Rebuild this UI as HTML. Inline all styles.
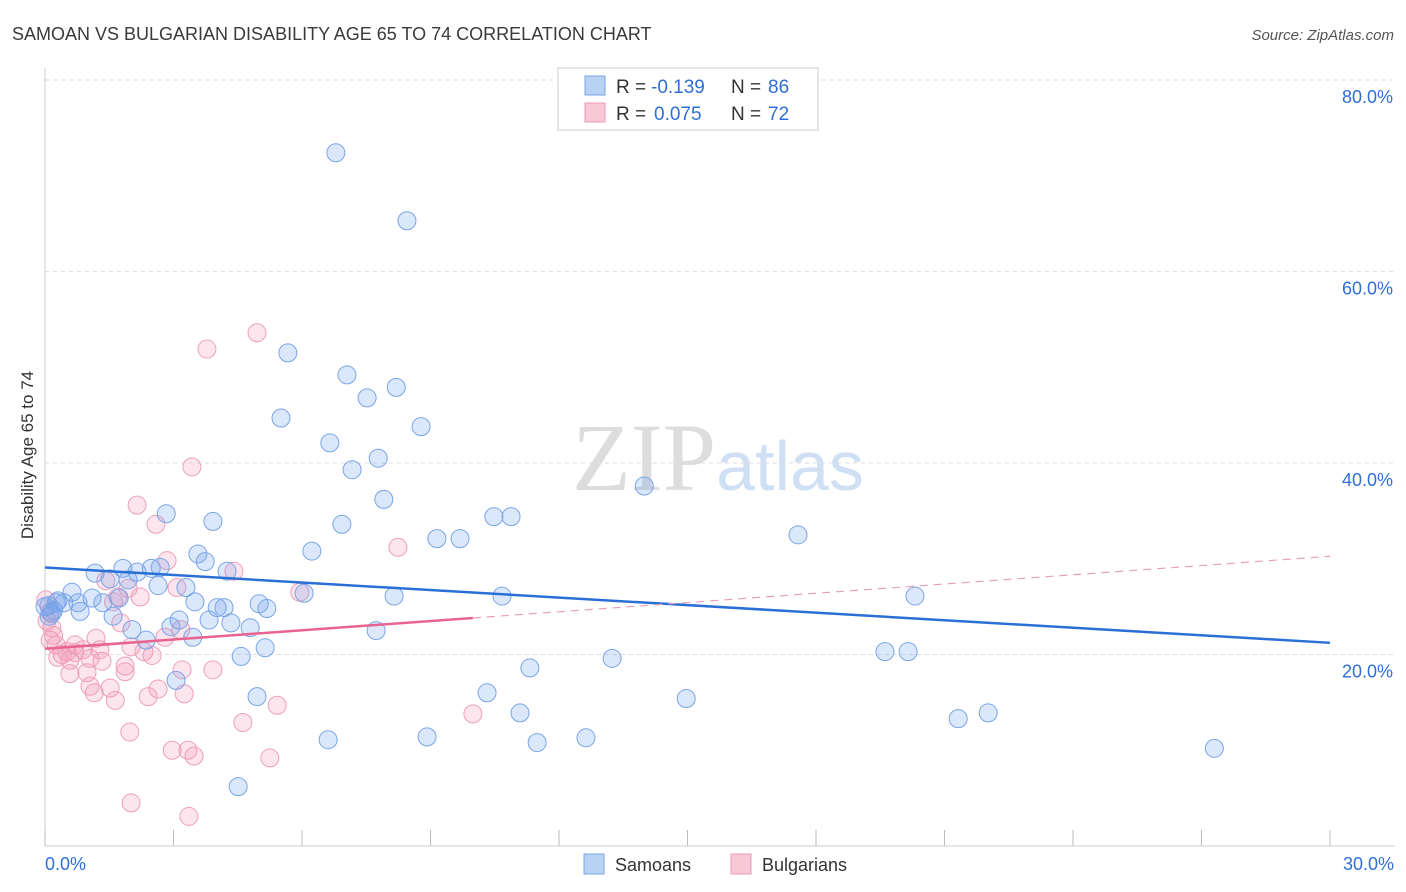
<!DOCTYPE html>
<html><head><meta charset="utf-8"><style>
body{margin:0;background:#fff;font-family:"Liberation Sans",sans-serif}
svg{display:block}
</style></head><body>
<svg id="c" width="1406" height="892">
<text x="12" y="40" font-size="18" fill="#3a3a3a">SAMOAN VS BULGARIAN DISABILITY AGE 65 TO 74 CORRELATION CHART</text>
<text x="1394" y="40" font-size="15" fill="#555" font-style="italic" text-anchor="end">Source: ZipAtlas.com</text>
<text x="33" y="455" font-size="17" fill="#333" text-anchor="middle" transform="rotate(-90 33 455)">Disability Age 65 to 74</text>
<text x="718" y="490" font-size="96" fill="#ddd" text-anchor="middle" font-family="Liberation Serif">ZIP<tspan fill="#cfe0f4" font-family="Liberation Sans" font-size="70">atlas</tspan></text>
<g id="grid"></g><g id="marks"></g>
<g>
<rect x="558" y="68" width="260" height="62" fill="#fff" stroke="#ccc"/>
<rect x="585" y="76" width="20" height="19" fill="#b9d1f3" stroke="#7aa6e6"/>
<rect x="585" y="103" width="20" height="19" fill="#f9c8d7" stroke="#eb9ab4"/>
<text x="616" y="93" font-size="19" fill="#333">R =</text>
<text x="651" y="93" font-size="19" fill="#2f6fd6">-0.139</text>
<text x="731" y="93" font-size="19" fill="#333">N =</text>
<text x="768" y="93" font-size="19" fill="#2f6fd6">86</text>
<text x="616" y="120" font-size="19" fill="#333">R =</text>
<text x="654" y="120" font-size="19" fill="#2f6fd6">0.075</text>
<text x="731" y="120" font-size="19" fill="#333">N =</text>
<text x="768" y="120" font-size="19" fill="#2f6fd6">72</text>
</g>
<g>
<rect x="584" y="854" width="20" height="20" fill="#b9d1f3" stroke="#7aa6e6"/>
<text x="615" y="871" font-size="18" fill="#333">Samoans</text>
<rect x="731" y="854" width="20" height="20" fill="#f9c8d7" stroke="#eb9ab4"/>
<text x="762" y="871" font-size="18" fill="#333">Bulgarians</text>
</g>
</svg>
<script>
const blueX=[6.79,8.45,5.67,7.05,7.52,8.20,5.51,8.78,6.65,7.78,7.17,13.99,7.91,2.83,3.92,6.93,10.48,10.88,17.58,9.15,9.69,6.23,3.57,3.74,1.82,2.48,2.69,1.17,2.15,4.25,1.52,1.94,2.64,3.29,0.63,6.05,8.15,10.67,20.31,1.10,1.73,0.26,0.44,0.77,1.35,3.50,5.00,0.09,4.02,4.18,5.18,0.82,0.16,1.59,3.13,3.83,4.34,2.94,4.79,2.03,7.73,3.45,2.36,5.14,19.61,20.15,4.58,13.24,11.32,3.06,10.32,4.95,14.97,11.09,21.32,22.02,8.92,6.61,12.63,11.49,27.30,4.51,0.0,0.1,0.3,0.2];
const blueY=[72.4,65.3,51.5,49.2,46.8,47.9,44.7,43.8,42.1,40.5,39.3,37.6,36.2,34.7,33.9,33.6,34.4,34.4,32.5,32.1,32.1,30.8,30.5,29.7,29.0,29.0,29.1,28.5,28.6,28.7,27.9,27.8,27.2,27.0,26.5,26.4,26.1,26.1,26.1,25.9,25.9,25.4,25.4,25.4,25.4,25.5,25.3,25.1,24.9,24.9,24.8,24.5,24.3,24.0,23.6,23.6,23.3,22.9,22.8,22.6,22.5,21.8,21.5,20.7,20.3,20.3,19.8,19.6,18.6,17.3,16.0,15.6,15.4,13.9,13.3,13.9,11.4,11.1,11.3,10.8,10.2,6.2,25.0,24.0,25.6,24.6];
const pinkX=[4.95,3.78,3.43,2.15,2.59,8.24,2.85,4.41,3.08,5.95,1.42,1.94,1.70,2.22,0.02,0.12,1.77,3.17,0.16,0.12,1.19,2.80,0.26,0.70,0.89,1.28,2.01,2.31,2.50,0.51,0.30,0.58,1.05,1.33,1.87,3.20,3.92,1.87,0.58,0.98,1.05,1.52,2.64,1.15,3.25,2.41,1.64,5.42,9.99,4.62,1.98,2.97,3.34,3.48,5.25,2.01,3.36,0.05,0.2,0.4,0.7,1.6];
const pinkY=[53.6,51.9,39.6,35.6,33.6,31.2,29.8,28.7,27.0,26.5,27.7,26.9,26.0,26.0,25.7,24.4,23.3,22.6,22.8,21.5,21.7,21.8,21.0,21.0,20.5,20.5,20.8,20.3,19.9,20.3,19.7,19.4,19.6,19.3,18.8,18.4,18.4,18.2,18.0,18.1,16.7,16.5,16.4,16.0,15.9,15.6,15.2,14.7,13.8,12.9,11.9,10.0,10.0,9.4,9.2,4.5,3.1,23.5,22.0,20.0,20.2,25.5];
const yTicks=[20,40,60,80];
const xTickLabels=["0.0%","30.0%"];
const L=45,R=1330,T=80,B=846;
const sx=v=>L+(v/30)*(R-L), sy=v=>B-(v/80)*(B-T);
const NS="http://www.w3.org/2000/svg";
function mk(tag,attrs,parent){const e=document.createElementNS(NS,tag);for(const k in attrs)e.setAttribute(k,attrs[k]);parent.appendChild(e);return e;}
const grid=document.getElementById('grid'), marks=document.getElementById('marks');
const ax=mk('line',{x1:L,y1:68,x2:L,y2:B,stroke:'#ccc'},grid);


const bx=mk('line',{x1:L,y1:B,x2:1395,y2:B,stroke:'#ccc'},grid);


yTicks.forEach(t=>{
 const g=mk('line',{x1:L,y1:sy(t),x2:1395,y2:sy(t),stroke:'#ddd','stroke-dasharray':'4,4'},grid);
 
 
 const tx=mk('text',{x:1393,y:sy(t)+23,'font-size':18,fill:'#2f6fd6','text-anchor':'end'},grid);
 tx.textContent=t.toFixed(1)+'%';
 
 
});
for(let i=0;i<=10;i++){
 const x=sx(i*3);
 const tk=mk('line',{x1:x,y1:830,x2:x,y2:B,stroke:'#bbb'},grid);
 
 
}
[[L+0,'start',0],[1394,'end',1]].forEach(([x,a,i])=>{
 const t=mk('text',{x:x,y:870,'font-size':18,fill:'#2f6fd6','text-anchor':a},grid);
 t.textContent=xTickLabels[i];
 
 
});
function pts(X,Y,fill,stroke,name){
 X.forEach((x,i)=>{
  const c=mk('circle',{cx:sx(x),cy:sy(Y[i]),r:9,fill:fill,stroke:stroke,'stroke-width':1},marks);
  
  
 });
}
pts(pinkX,pinkY,'rgba(244,150,180,0.25)','#ee9fba','bulgarian-point');
pts(blueX,blueY,'rgba(110,160,235,0.25)','#79a5e8','samoan-point');
function fit(X,Y){const n=X.length;let mx=0,my=0;X.forEach((x,i)=>{mx+=x;my+=Y[i]});mx/=n;my/=n;let sxy=0,sxx=0;X.forEach((x,i)=>{sxy+=(x-mx)*(Y[i]-my);sxx+=(x-mx)**2});const b=sxy/sxx;return [my-b*mx,b];}
const [ba,bb]=fit(blueX,blueY);
const bl=mk('line',{x1:sx(0),y1:sy(ba),x2:sx(30),y2:sy(ba+bb*30),stroke:'#2a6fd6','stroke-width':2.5},marks);


const [pa,pb]=fit(pinkX,pinkY);
const pxMax=Math.max(...pinkX);
const pl=mk('line',{x1:sx(0),y1:sy(pa),x2:sx(pxMax),y2:sy(pa+pb*pxMax),stroke:'#e8638f','stroke-width':2.5},marks);


const pd=mk('line',{x1:sx(pxMax),y1:sy(pa+pb*pxMax),x2:sx(30),y2:sy(pa+pb*30),stroke:'#e8a0b8','stroke-width':1.2,'stroke-dasharray':'8,6'},marks);


</script>
</body></html>
